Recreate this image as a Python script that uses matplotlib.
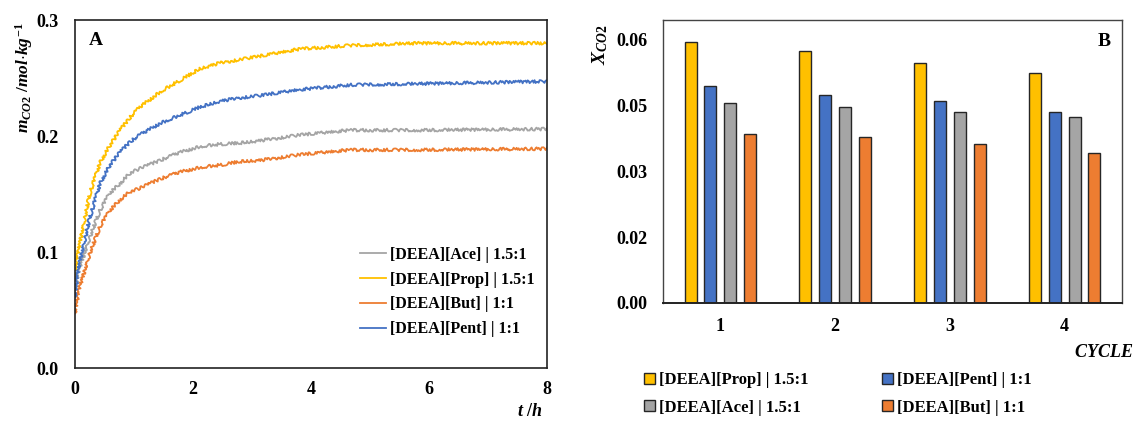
import matplotlib
matplotlib.use("Agg")
import matplotlib.pyplot as plt
from matplotlib.patches import Patch

plt.rcParams['font.family'] = ['Liberation Serif', 'DejaVu Serif']
plt.rcParams['font.weight'] = 'bold'
plt.rcParams['mathtext.fontset'] = 'custom'
plt.rcParams['mathtext.rm'] = 'Liberation Serif'
plt.rcParams['mathtext.it'] = 'Liberation Serif:italic'
plt.rcParams['mathtext.bf'] = 'Liberation Serif:bold'

# --- absorption kinetics (panel A) ---
t_h = [0.0, 0.03, 0.085, 0.254, 0.424, 0.593, 0.763, 0.932, 1.10, 1.44,
       1.78, 2.12, 2.46, 2.80, 3.14, 3.81, 4.66, 5.79, 7.94, 8.0]
m_ace = [0.061, 0.072, 0.087, 0.113, 0.136, 0.151, 0.159, 0.168, 0.172, 0.179,
         0.186, 0.191, 0.193, 0.194, 0.196, 0.201, 0.205, 0.205, 0.206, 0.206]
m_prop = [0.078, 0.092, 0.108, 0.151, 0.177, 0.192, 0.205, 0.216, 0.225, 0.238,
          0.248, 0.258, 0.263, 0.266, 0.269, 0.275, 0.278, 0.280, 0.280, 0.280]
m_but = [0.047, 0.057, 0.070, 0.099, 0.122, 0.136, 0.145, 0.152, 0.155, 0.163,
         0.169, 0.173, 0.175, 0.178, 0.179, 0.184, 0.188, 0.188, 0.189, 0.189]
m_pent = [0.061, 0.075, 0.092, 0.130, 0.159, 0.175, 0.186, 0.195, 0.201, 0.211,
          0.218, 0.225, 0.230, 0.233, 0.235, 0.240, 0.244, 0.245, 0.247, 0.247]

# --- CO2 mole fraction per cycle (panel B) ---
cycles = ['1', '2', '3', '4']
x_prop = [0.0595, 0.0574, 0.0548, 0.0525]
x_pent = [0.0494, 0.0474, 0.0461, 0.0436]
x_ace = [0.0456, 0.0447, 0.0436, 0.0424]
x_but = [0.0386, 0.0379, 0.0363, 0.0342]
b_yticks = [0.0, 0.015, 0.03, 0.045, 0.06]
b_yticklabels = ['0.00', '0.02', '0.03', '0.05', '0.06']

c_gold = '#FFC000'
c_blue = '#4472C4'
c_gray = '#A5A5A5'
c_orange = '#ED7D31'

fig = plt.figure(figsize=(11.34, 4.23), dpi=100)
ax1 = fig.add_axes([0.0661, 0.130, 0.4163, 0.8227])
ax2 = fig.add_axes([0.5847, 0.2837, 0.4047, 0.669])

# panel A
series = [(m_ace, c_gray, '[DEEA][Ace] | 1.5:1'),
          (m_prop, c_gold, '[DEEA][Prop] | 1.5:1'),
          (m_but, c_orange, '[DEEA][But] | 1:1'),
          (m_pent, c_blue, '[DEEA][Pent] | 1:1')]
curves = []
for vals, col, lab in series:
    ln, = ax1.plot(t_h, vals, color=col, lw=1.3, label=lab)
    curves.append(ln)

ax1.set_xlim(0, 8)
ax1.set_ylim(0, 0.3)
ax1.set_xticks([0, 2, 4, 6, 8])
ax1.set_yticks([0, 0.1, 0.2, 0.3])
ax1.set_yticklabels(['0.0', '0.1', '0.2', '0.3'])
ax1.tick_params(length=0, labelsize=13)
ax1.tick_params(axis='x', pad=9)
ax1.tick_params(axis='y', pad=12)
for s in ax1.spines.values():
    s.set_color('#222222')
    s.set_linewidth(1.2)

leg1 = ax1.legend(loc='upper left', bbox_to_anchor=(0.604, 0.348), frameon=False,
                  fontsize=11.5, handlelength=1.6, handletextpad=0.3,
                  labelspacing=0.55, borderpad=0, borderaxespad=0)
for txt in leg1.get_texts():
    txt.set_fontweight('bold')

# measurement noise look on the curves only (legend keys stay clean)
for ln in curves:
    ln.set_sketch_params(scale=1.5, length=3, randomness=4)

ax1.text(0.03, 0.965, 'A', transform=ax1.transAxes, fontsize=14,
         fontweight='bold', ha='left', va='top')
fig.text(24 / 1134, 1 - 78 / 423, r'$m_{CO2}\ /mol{\cdot}kg^{-1}$', rotation=90,
         ha='center', va='center', fontsize=12.5)
fig.text(530 / 1134, 1 - 411 / 423, r'$t\ /h$', ha='center', va='center',
         fontsize=13)

# panel B
pos = range(len(cycles))
w = 0.105
offsets = [-0.26, -0.087, 0.087, 0.26]
bar_sets = [(x_prop, c_gold, '[DEEA][Prop] | 1.5:1'),
            (x_pent, c_blue, '[DEEA][Pent] | 1:1'),
            (x_ace, c_gray, '[DEEA][Ace] | 1.5:1'),
            (x_but, c_orange, '[DEEA][But] | 1:1')]
for (vals, col, lab), off in zip(bar_sets, offsets):
    ax2.bar([p + off for p in pos], vals, width=w, color=col,
            edgecolor='#262626', linewidth=1.0, label=lab)

ax2.set_xlim(-0.5, 3.5)
ax2.set_ylim(0, 0.0645)
ax2.set_xticks(list(pos))
ax2.set_xticklabels(cycles)
ax2.set_yticks(b_yticks)
ax2.set_yticklabels(b_yticklabels)
ax2.tick_params(length=0, labelsize=13)
ax2.tick_params(axis='x', pad=11)
ax2.tick_params(axis='y', pad=11)
for s in ax2.spines.values():
    s.set_color('#444444')
    s.set_linewidth(1.0)
ax2.spines['bottom'].set_color('#222222')
ax2.spines['bottom'].set_linewidth(1.4)

ax2.text(0.975, 0.955, 'B', transform=ax2.transAxes, fontsize=14,
         fontweight='bold', ha='right', va='top')
fig.text(600 / 1134, 1 - 45 / 423, r'$X_{CO2}$', rotation=90,
         ha='center', va='center', fontsize=14)
fig.text(1133 / 1134, 1 - 352 / 423, r'$CYCLE$', ha='right', va='center',
         fontsize=13)

handles = [Patch(facecolor=col, edgecolor='#262626', lw=1.0)
           for _, col, _ in bar_sets]
labels = [lab for _, _, lab in bar_sets]
# column-major fill: Prop/Ace on the left, Pent/But on the right
order = [0, 2, 1, 3]
leg2 = fig.legend([handles[i] for i in order], [labels[i] for i in order],
                  loc='upper left', bbox_to_anchor=(644 / 1134, 1 - 372 / 423),
                  ncol=2, frameon=False, fontsize=12, handlelength=0.65,
                  handleheight=0.65, handletextpad=0.25, columnspacing=4.4,
                  labelspacing=0.7, borderpad=0, borderaxespad=0)
for txt in leg2.get_texts():
    txt.set_fontweight('bold')

fig.savefig('out.png', dpi=100)
